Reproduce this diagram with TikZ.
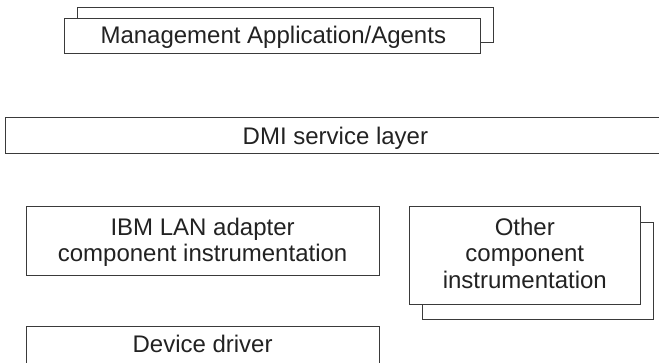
\documentclass[tikz,border=0pt]{standalone}
\usepackage{fontspec}
\setmainfont{Liberation Sans}
\definecolor{boxline}{HTML}{3A3A3A}
\definecolor{txt}{HTML}{222222}
\begin{document}
\begin{tikzpicture}[x=1pt,y=-1pt,
  boxln/.style={draw=boxline,line width=0.9pt},
  lbl/.style={anchor=base,inner sep=0pt,text=txt,font=\fontsize{24}{26}\selectfont}]
\useasboundingbox (0,0) rectangle (659,363);
% Management Application/Agents (stacked)
\draw[boxln] (77.3,18.3) -- (77.3,7.3) -- (493.3,7.3) -- (493.3,42.7) -- (480.7,42.7);
\draw[boxln] (64,18.3) rectangle (480.7,53.3);
\node[lbl] (mgmt) at (273.3,43.3) {Management Application/Agents};
% DMI service layer (open right)
\draw[boxln] (662,117.3) -- (5.7,117.3) -- (5.7,153.3) -- (662,153.3);
\node[lbl] (dmi) at (335.4,145) {DMI service layer};
% IBM LAN adapter component instrumentation
\draw[boxln] (26,206.7) rectangle (379.3,275);
\node[lbl] (ibm1) at (202.6,236) {IBM LAN adapter};
\node[lbl] (ibm2) at (202.6,262) {component instrumentation};
% Other component instrumentation (stacked)
\draw[boxln] (640.7,222.3) -- (653.3,222.3) -- (653.3,319.3) -- (422.3,319.3) -- (422.3,304);
\draw[boxln] (409,206.7) rectangle (640.7,304);
\node[lbl] (oth1) at (524.8,236) {Other};
\node[lbl] (oth2) at (524.8,262) {component};
\node[lbl] (oth3) at (524.8,288.5) {instrumentation};
% Device driver (open bottom)
\draw[boxln] (26,366) -- (26,326) -- (379.3,326) -- (379.3,366);
\node[lbl] (dev) at (202.6,353) {Device driver};
\end{tikzpicture}
\end{document}
